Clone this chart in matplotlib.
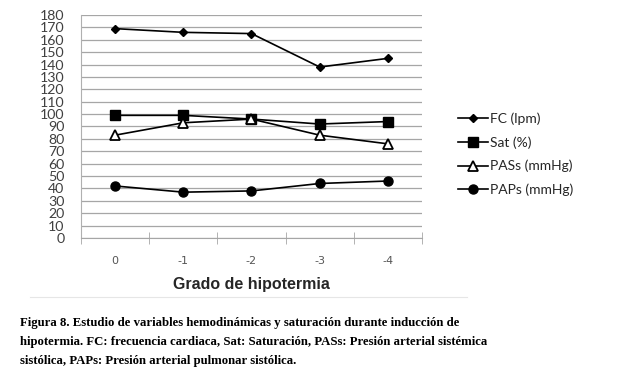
import matplotlib
matplotlib.use("Agg")
import matplotlib.pyplot as plt
from matplotlib.lines import Line2D

categories = ["0", "-1", "-2", "-3", "-4"]
fc = [169, 166, 165, 138, 145]
sat = [99, 99, 96, 92, 94]
pass_ = [83, 93, 96, 83, 76]
paps = [42, 37, 38, 44, 46]
series_labels = ["FC (lpm)", "Sat (%)", "PASs (mmHg)", "PAPs (mmHg)"]
y_ticks = list(range(0, 181, 10))
x_label = "Grado de hipotermia"
caption = ("Figura 8. Estudio de variables hemodinámicas y saturación durante inducción de\n"
           "hipotermia. FC: frecuencia cardiaca, Sat: Saturación, PASs: Presión arterial sistémica\n"
           "sistólica, PAPs: Presión arterial pulmonar sistólica.")

W, H = 637, 380
fig = plt.figure(figsize=(W / 100, H / 100), dpi=100)
ax = fig.add_axes([81 / W, 1 - 238 / H, (422 - 81) / W, (238 - 15) / H])

x = list(range(len(categories)))
lw = 1.2
ax.plot(x, fc, color="black", lw=lw, marker="D", ms=4.5, label=series_labels[0])
ax.plot(x, sat, color="black", lw=lw, marker="s", ms=6.5, label=series_labels[1])
ax.plot(x, pass_, color="black", lw=lw, marker="^", ms=7, mfc="white", mec="black", mew=1.3,
        label=series_labels[2])
ax.plot(x, paps, color="black", lw=lw, marker="o", ms=6.5, label=series_labels[3])

ax.set_xlim(-0.5, len(categories) - 0.5)
ax.set_ylim(0, 180)
ax.set_yticks(y_ticks)
ax.yaxis.grid(True, color="#a6a6a6", lw=0.9)
ax.set_axisbelow(True)
ax.tick_params(axis="y", length=0, pad=12, labelsize=10.2, labelcolor="#404040")
for lab in ax.get_yticklabels():
    lab.set_family("Lato")

ax.set_xticks(x)
ax.set_xticklabels(categories, fontsize=8, color="#555555", family="DejaVu Sans")
ax.set_xticks([i + 0.5 for i in range(-1, len(categories))], minor=True)
ax.tick_params(axis="x", which="major", length=0, pad=13)
ax.tick_params(axis="x", which="minor", length=9, direction="inout", color="#a6a6a6")

for s in ["top", "right"]:
    ax.spines[s].set_visible(False)
ax.spines["left"].set_color("#b0b0b0")
ax.spines["bottom"].set_color("#a6a6a6")

fig.text(251 / W, 1 - 285 / H, x_label, ha="center", va="center", fontsize=11.5,
         family="Liberation Sans", fontweight="bold", color="#262626")

leg = ax.legend(loc="upper left", bbox_to_anchor=(445 / W, 1 - 100 / H),
                bbox_transform=fig.transFigure, frameon=False,
                handlelength=2.2, handletextpad=0.15, labelspacing=0.8,
                prop={"family": "Lato", "size": 10})
for t in leg.get_texts():
    t.set_color("#262626")

fig.add_artist(Line2D([30 / W, 467 / W], [1 - 297 / H, 1 - 297 / H],
                      transform=fig.transFigure, color="#e6e6e6", lw=0.8))

fig.text(20 / W, 1 - 317 / H, caption, ha="left", va="top", fontsize=9.2,
         family="Liberation Serif", fontweight="bold", linespacing=1.8, color="black")

fig.savefig("out.png", dpi=100)
